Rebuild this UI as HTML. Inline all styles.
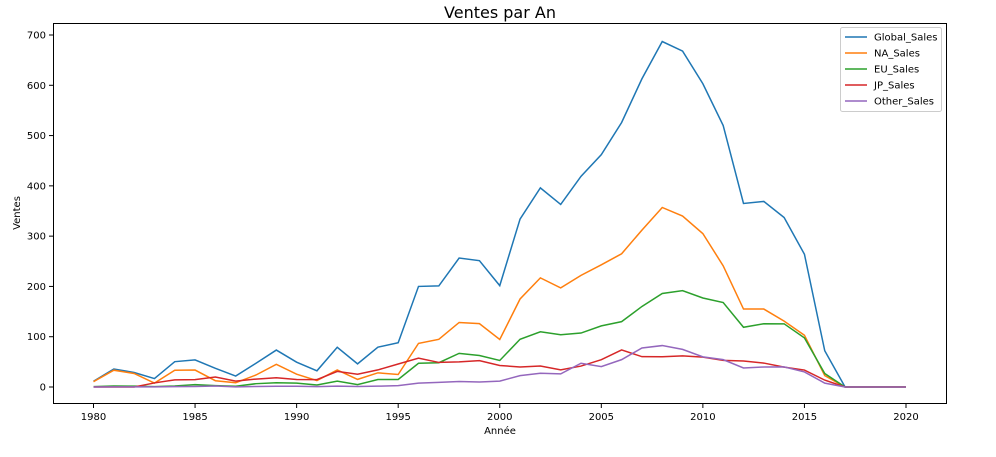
<!DOCTYPE html>
<html><head><meta charset="utf-8"><style>
body{margin:0;background:#fff;font-family:"DejaVu Sans","Liberation Sans",sans-serif}
svg text{font-family:"DejaVu Sans","Liberation Sans",sans-serif}
</style></head><body>
<svg id="chart" width="996" height="453">
<text x="500" y="18" font-size="16" text-anchor="middle">Ventes par An</text>
<rect x="53.5" y="23.5" width="893" height="380" fill="none" stroke="#000" stroke-width="1"/>
<text x="500" y="434" font-size="10" text-anchor="middle">Année</text>
<text transform="translate(20,213) rotate(-90)" font-size="10" text-anchor="middle">Ventes</text>
<g id="axes"></g><g id="lines"></g>
<g>
<rect x="840.5" y="27.5" width="101" height="84" fill="#fff" stroke="#ccc" rx="2"/>
<g id="legend"></g></g>
</svg>
<script>
const years=[1980,1981,1982,1983,1984,1985,1986,1987,1988,1989,1990,1991,1992,1993,1994,1995,1996,1997,1998,1999,2000,2001,2002,2003,2004,2005,2006,2007,2008,2009,2010,2011,2012,2013,2014,2015,2016,2017,2020];
const globalSales=[11.38,35.77,28.86,16.79,50.36,53.94,37.07,21.74,47.22,73.45,49.39,32.23,79,45.98,79.17,88.11,200,201,256.47,251.27,201.56,334,396,363,419,462,526,613,687,668,603,520,365,369,337,264,72,0.05,0.29];
const naSales=[10.59,33.4,26.92,7.76,33.28,33.73,12.5,8.46,23.87,45.15,25.46,12.76,33.87,15.12,28.15,24.82,86.76,94.75,128.36,126.06,94.49,175,217,197,222,243,265,312,357,340,305,241,155,155,131,103,22.66,0,0.27];
const euSales=[0.67,1.96,1.65,0.8,2.1,4.74,2.84,1.41,6.59,8.44,7.63,3.95,11.71,4.65,14.88,14.9,47.26,48.32,66.9,62.67,52.75,94.89,109.74,103.81,107.27,121.56,130,160.18,186,191.59,177,168,118.78,125.8,125.65,97.71,26.76,0,0];
const jpSales=[0,0,0,8.1,14.27,14.56,19.81,11.63,15.76,18.36,14.88,14.78,31,25.33,33.99,45.75,57.44,48.87,50.04,52.34,42.77,39.86,41.76,34.2,41.65,54.28,73.73,60.29,60.26,61.89,59.49,53.04,51.74,47.59,39.46,33.72,13.7,0.05,0];
const otherSales=[0.12,0.32,0.31,0.14,0.7,0.92,1.93,0.2,0.99,1.5,1.4,0.74,1.65,0.89,1.65,2.64,7.69,9.13,11.03,10.05,11.62,22.65,27.28,26.01,47.29,40.58,54.43,77.58,82.39,74.77,59.9,54.37,37.82,39.82,40.02,30.01,7.75,0,0];
const seriesNames=["Global_Sales","NA_Sales","EU_Sales","JP_Sales","Other_Sales"];
const xTicks=[1980,1985,1990,1995,2000,2005,2010,2015,2020];
const yTicks=[0,100,200,300,400,500,600,700];
const colors=["#1f77b4","#ff7f0e","#2ca02c","#d62728","#9467bd"];
const X=v=>93.5+(v-1980)*(906-93.5)/40;
const Y=v=>387-v*(387-35)/700;
const NS="http://www.w3.org/2000/svg";
function mk(t,a,p){const e=document.createElementNS(NS,t);for(const k in a)e.setAttribute(k,a[k]);p.appendChild(e);return e;}
const ax=document.getElementById('axes');
xTicks.forEach(t=>{
 const l=mk('line',{x1:X(t),x2:X(t),y1:404,y2:408,stroke:'#000'},ax);
 
 
 const tx=mk('text',{x:X(t),y:420,'font-size':10,'text-anchor':'middle'},ax);tx.textContent=t;
 
 
});
yTicks.forEach(t=>{
 const l=mk('line',{x1:49,x2:53,y1:Y(t),y2:Y(t),stroke:'#000'},ax);
 
 
 const tx=mk('text',{x:46,y:Y(t)+3.5,'font-size':10,'text-anchor':'end'},ax);tx.textContent=t;
 
 
});
const all=[globalSales,naSales,euSales,jpSales,otherSales];
const lg=document.getElementById('lines'),leg=document.getElementById('legend');
all.forEach((s,i)=>{
 const p=mk('polyline',{points:s.map((v,j)=>X(years[j])+','+Y(v)).join(' '),fill:'none',stroke:colors[i],'stroke-width':1.5},lg);
 
 
 const y=37+i*16;
 const l=mk('line',{x1:845,x2:867,y1:y,y2:y,stroke:colors[i],'stroke-width':1.5},leg);
 
 
 const t=mk('text',{x:874,y:y+3.5,'font-size':10},leg);t.textContent=seriesNames[i];
 
 
});
</script>
</body></html>
